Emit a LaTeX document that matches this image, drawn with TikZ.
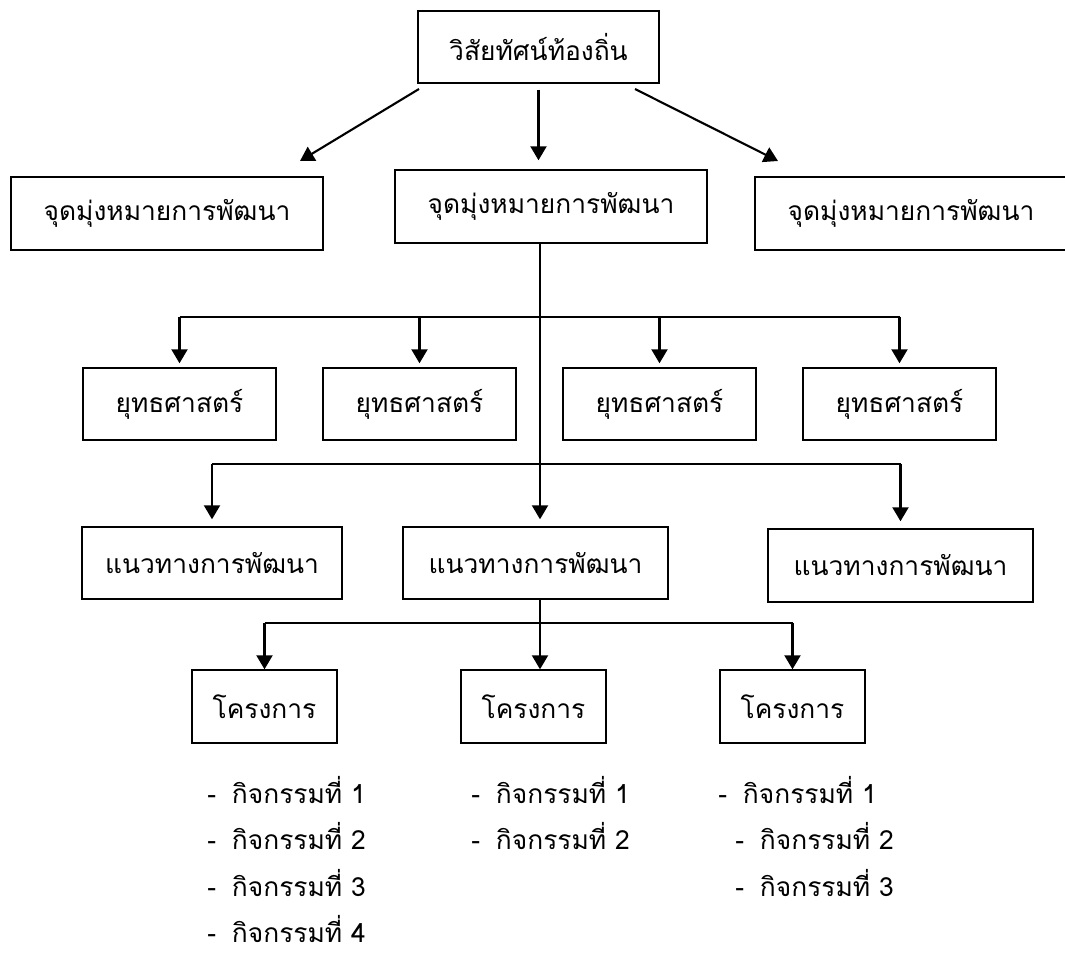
\documentclass[tikz,border=0pt]{standalone}
\usepackage{fontspec}
\newfontfamily\thaifont[Script=Thai]{Loma}
\usetikzlibrary{arrows.meta}

\begin{document}
\begin{tikzpicture}[>={Triangle[length=0.28cm,width=0.32cm]},
  font=\thaifont\fontsize{15}{18}\selectfont,
  box/.style={draw, thick, inner sep=0pt},
  branch/.style={thick},
  feed/.style={->, very thick},
  item/.style={anchor=west, inner sep=0pt}]
\useasboundingbox (0,0) rectangle (21.3,19.04);

\node[box, minimum width=4.82cm, minimum height=1.44cm] (vision) at (10.77,18.10) {วิสัยทัศน์ท้องถิ่น};
\node[box, minimum width=6.24cm, minimum height=1.46cm] (goalL) at (3.34,14.77) {จุดมุ่งหมายการพัฒนา};
\node[box, minimum width=6.24cm, minimum height=1.46cm] (goalM) at (11.02,14.91) {จุดมุ่งหมายการพัฒนา};
\node[box, minimum width=6.24cm, minimum height=1.46cm] (goalR) at (18.22,14.77) {จุดมุ่งหมายการพัฒนา};

\node[box, minimum width=3.86cm, minimum height=1.44cm] (strat1) at (3.59,10.96) {ยุทธศาสตร์};
\node[box, minimum width=3.86cm, minimum height=1.44cm] (strat2) at (8.39,10.96) {ยุทธศาสตร์};
\node[box, minimum width=3.86cm, minimum height=1.44cm] (strat3) at (13.19,10.96) {ยุทธศาสตร์};
\node[box, minimum width=3.86cm, minimum height=1.44cm] (strat4) at (17.99,10.96) {ยุทธศาสตร์};

\node[box, minimum width=5.20cm, minimum height=1.44cm] (guideL) at (4.24,7.78) {แนวทางการพัฒนา};
\node[box, minimum width=5.30cm, minimum height=1.44cm] (guideM) at (10.71,7.78) {แนวทางการพัฒนา};
\node[box, minimum width=5.30cm, minimum height=1.46cm] (guideR) at (18.01,7.73) {แนวทางการพัฒนา};

\node[box, minimum width=2.90cm, minimum height=1.46cm] (proj1) at (5.29,4.91) {โครงการ};
\node[box, minimum width=2.90cm, minimum height=1.46cm] (proj2) at (10.67,4.91) {โครงการ};
\node[box, minimum width=2.90cm, minimum height=1.46cm] (proj3) at (15.85,4.91) {โครงการ};

% activities under each project
\node[item] (act11) at (4.14,3.24) {-\hspace{9pt}กิจกรรมที่ 1};
\node[item] (act12) at (4.14,2.31) {-\hspace{9pt}กิจกรรมที่ 2};
\node[item] (act13) at (4.14,1.38) {-\hspace{9pt}กิจกรรมที่ 3};
\node[item] (act14) at (4.14,0.45) {-\hspace{9pt}กิจกรรมที่ 4};
\node[item] (act21) at (9.42,3.24) {-\hspace{9pt}กิจกรรมที่ 1};
\node[item] (act22) at (9.42,2.31) {-\hspace{9pt}กิจกรรมที่ 2};
\node[item] (act31) at (14.36,3.24) {-\hspace{9pt}กิจกรรมที่ 1};
\node[item] (act32) at (14.70,2.31) {-\hspace{9pt}กิจกรรมที่ 2};
\node[item] (act33) at (14.70,1.38) {-\hspace{9pt}กิจกรรมที่ 3};

\coordinate (fromL) at (8.38,17.26);
\coordinate (toL) at (6.00,15.82);
\coordinate (fromR) at (12.70,17.26);
\coordinate (toR) at (15.56,15.82);
\coordinate (hub1) at (10.80,12.70);
\coordinate (hub2) at (10.80,9.76);
\coordinate (hub3) at (10.80,6.58);

\draw[feed] (fromL) -- (toL);
\draw[feed, shorten <=0.12cm, shorten >=0.18cm] (vision.south) -- (vision.south |- goalM.north);
\draw[feed] (fromR) -- (toR);

\draw[branch] (goalM.south -| hub1) -- (hub1);
\draw[branch] (strat1 |- hub1) -- (strat4 |- hub1);
\draw[feed, shorten >=0.08cm] (strat1 |- hub1) -- (strat1);
\draw[feed, shorten >=0.08cm] (strat2 |- hub1) -- (strat2);
\draw[feed, shorten >=0.08cm] (strat3 |- hub1) -- (strat3);
\draw[feed, shorten >=0.08cm] (strat4 |- hub1) -- (strat4);

\draw[feed, shorten >=0.14cm] (hub1) -- (guideM.north -| hub1);
\draw[branch] (guideL |- hub2) -- (guideR |- hub2);
\draw[feed, shorten >=0.14cm] (guideL |- hub2) -- (guideL);
\draw[feed, shorten >=0.14cm] (guideR |- hub2) -- (guideR);

\draw[branch] (guideM.south -| hub3) -- (hub3);
\draw[branch] (proj1 |- hub3) -- (proj3 |- hub3);
\draw[feed] (proj1 |- hub3) -- (proj1);
\draw[feed] (hub3) -- (proj2.north -| hub3);
\draw[feed] (proj3 |- hub3) -- (proj3);
\end{tikzpicture}
\end{document}
